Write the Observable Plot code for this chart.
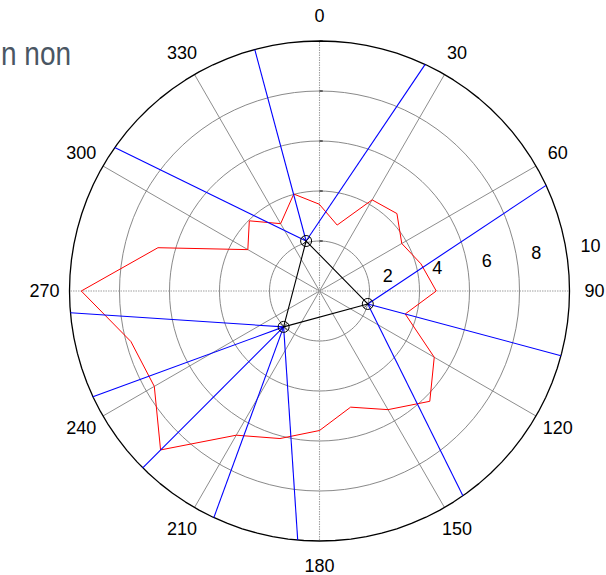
<!DOCTYPE html>
<html><head><meta charset="utf-8">
<script src="https://cdn.jsdelivr.net/npm/d3@7"></script>
<script src="https://cdn.jsdelivr.net/npm/@observablehq/plot@0.6"></script>
<style>
body{margin:0;background:#fff;}
#wrap{position:relative;width:606px;height:575px;overflow:hidden;}
#wrap svg{position:absolute;left:0;top:0;}
#title{position:absolute;left:1px;top:42px;font-size:28px;line-height:1;font-family:"Liberation Sans",Arial,sans-serif;color:#4a5663;white-space:nowrap;transform:scaleY(1.18);transform-origin:left 23.7px;}
</style></head>
<body>
<div id="wrap"><div id="title">n non</div></div>
<script>
// ---- data ----
const ringRadii = [2, 4, 6, 8];
const outerRadius = 10;
const angleTicks = [0, 30, 60, 90, 120, 150, 180, 210, 240, 270, 300, 330];
const angleTickLabels = ["0", "30", "60", "90", "120", "150", "180", "210", "240", "270", "300", "330"];
const radialTicks = [2, 4, 6, 8, 10];
const radialTickLabels = ["2", "4", "6", "8", "10"];
const redAngles = [0, 15, 30, 45, 60, 75, 90, 105, 120, 135, 150, 165, 180, 195, 210, 225, 240, 255, 270, 285, 300, 315, 330, 345];
const redRadii = [3.46, 2.73, 4.21, 4.38, 3.80, 4.20, 4.67, 3.55, 5.30, 6.24, 5.48, 4.81, 5.58, 6.11, 6.66, 8.99, 7.63, 7.81, 9.53, 6.69, 3.31, 3.97, 3.11, 4.00];
const sensorAngles = [345, 105, 225];
const sensorRadii = [2.07, 2.0, 2.03];
const rayFrom = [0, 0, 0, 1, 1, 1, 2, 2, 2, 2, 2];
const rayAngles = [305, 345, 25, 65, 105, 145, 185, 205, 225, 245, 265];

// ---- helpers (polar: 0 at top, clockwise) ----
const rad = a => a * Math.PI / 180;
const X = (a, r) => r * Math.sin(rad(a));
const Y = (a, r) => r * Math.cos(rad(a));
const circlePts = r => d3.range(101).map(i => ({r, a: i * 3.6}));

const rings = ringRadii.flatMap(circlePts);
const outer = circlePts(outerRadius);
const red = redAngles.map((a, i) => ({a, r: redRadii[i]}));
const sensors = sensorAngles.map((a, i) => ({a, r: sensorRadii[i]}));
const rays = rayAngles.map((a, i) => ({s: sensors[rayFrom[i]], a}));
const angLab = angleTicks.map((a, i) => ({a, t: angleTickLabels[i]}));
const radLab = radialTicks.map((v, i) => ({v, t: radialTickLabels[i]}));

const font = "Liberation Sans, Arial, Helvetica, sans-serif";

const chart = Plot.plot({
  width: 606, height: 575,
  x: {domain: [-10, 10], range: [69, 569], axis: null},
  y: {domain: [-10, 10], range: [540.5, 40.5], axis: null},
  style: {background: "transparent", fontFamily: font},
  marks: [
    Plot.line(rings, {x: d => X(d.a, d.r), y: d => Y(d.a, d.r), z: "r", stroke: "#7c7c7c", strokeWidth: 0.9}),
    Plot.link(angleTicks.filter(a => a % 90 !== 0), {x1: () => 0, y1: () => 0, x2: a => X(a, outerRadius), y2: a => Y(a, outerRadius), stroke: "#808080", strokeWidth: 0.9}),
    Plot.link(angleTicks.filter(a => a % 90 === 0), {x1: () => 0, y1: () => 0, x2: a => X(a, outerRadius), y2: a => Y(a, outerRadius), stroke: "#a0a0a0", strokeWidth: 1.1, strokeDasharray: "1.5,1"}),
    Plot.link(radialTicks, {x1: () => 0, y1: d => d, x2: () => 0.13, y2: d => d, stroke: "black", strokeWidth: 1}),
    Plot.line(outer, {x: d => X(d.a, d.r), y: d => Y(d.a, d.r), stroke: "black", strokeWidth: 1.3}),
    Plot.line(red, {x: d => X(d.a, d.r), y: d => Y(d.a, d.r), curve: "linear-closed", stroke: "#ff0000", strokeWidth: 1}),
    Plot.link(rays, {x1: d => X(d.s.a, d.s.r), y1: d => Y(d.s.a, d.s.r), x2: d => X(d.a, outerRadius), y2: d => Y(d.a, outerRadius), stroke: "#0000ff", strokeWidth: 1.1}),
    Plot.line(sensors, {x: d => X(d.a, d.r), y: d => Y(d.a, d.r), curve: "linear-closed", stroke: "black", strokeWidth: 1.1}),
    Plot.dot(sensors, {x: d => X(d.a, d.r), y: d => Y(d.a, d.r), r: 5.5, stroke: "black", fill: "none", strokeWidth: 1}),
    Plot.dot(sensors, {x: d => X(d.a, d.r), y: d => Y(d.a, d.r), r: 3.5, symbol: "times", stroke: "black", strokeWidth: 0.8}),
    Plot.text(angLab, {x: d => X(d.a, outerRadius * 1.1), y: d => Y(d.a, outerRadius * 1.1), text: "t", fontSize: 18, fill: "black", fontFamily: font}),
    Plot.text(radLab, {x: d => X(81.5, d.v + 0.56), y: d => Y(81.5, d.v + 0.56), text: "t", fontSize: 18, fill: "black", textAnchor: "start", lineAnchor: "bottom", fontFamily: font})
  ]
});
document.getElementById("wrap").prepend(chart);
</script>
</body></html>
